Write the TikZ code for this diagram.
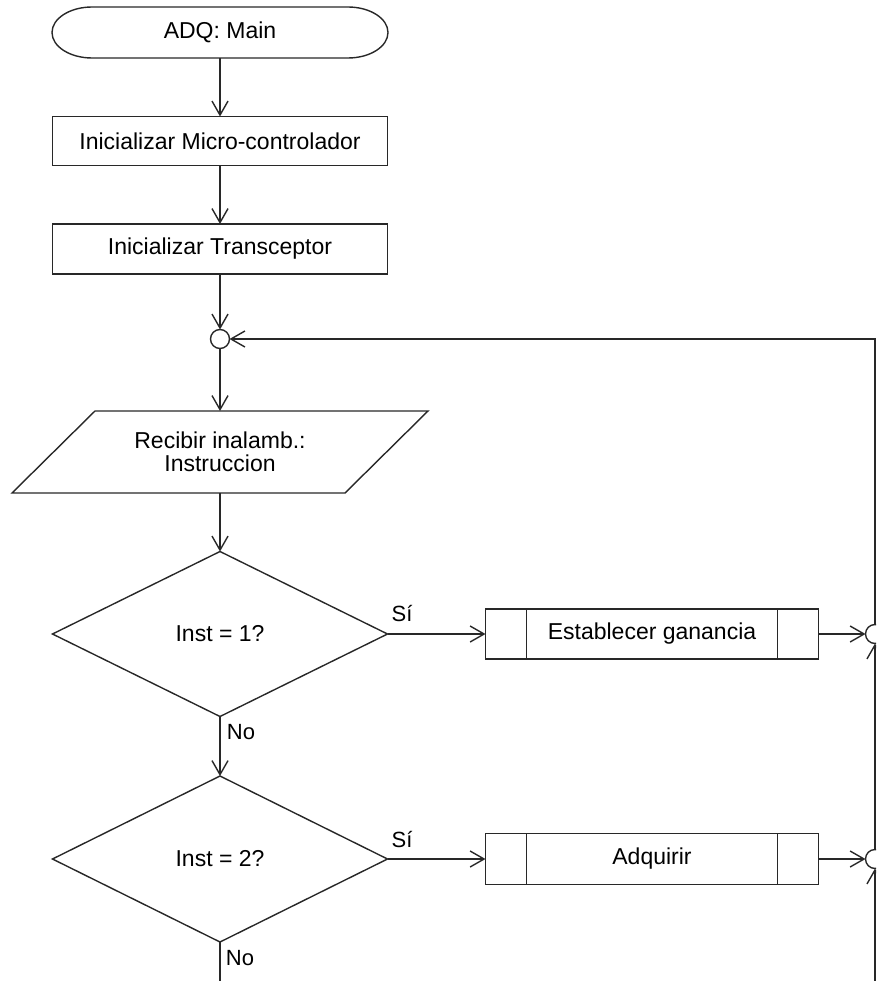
\documentclass[tikz,border=0pt]{standalone}
\usepackage{fontspec}
\setmainfont{Liberation Sans}
\usetikzlibrary{arrows.meta,shapes.geometric}
\definecolor{ln}{HTML}{282828}
\begin{document}
\begin{tikzpicture}[x=1pt,y=-1pt,line width=1.4pt,color=ln,
  every node/.style={font=\fontsize{23}{23}\selectfont,text=black,inner sep=0pt,outer sep=0pt},
  arr/.style={-{Straight Barb[length=14pt,width=16pt]}},
  procbox/.style={draw,rectangle,minimum width=335pt,minimum height=49pt},
  subbox/.style={draw,rectangle,minimum width=333pt,minimum height=50pt},
  decbox/.style={draw,diamond,minimum width=335pt,minimum height=165pt},
  junc/.style={draw,circle,minimum size=19pt},
  lbl/.style={font=\fontsize{22}{24}\selectfont}]
\useasboundingbox (0,0) rectangle (876,981);
\clip (0,0) rectangle (876,981);
% terminal
\draw (92,7) -- (348,7) .. controls (370,7) and (388,18.4) .. (388,32.5)
  .. controls (388,46.6) and (370,58) .. (348,58) -- (92,58)
  .. controls (70,58) and (52,46.6) .. (52,32.5)
  .. controls (52,18.4) and (70,7) .. (92,7) -- cycle;
\node (start) at (220,32.5) [minimum width=336pt,minimum height=51pt] {ADQ: Main};
\node[procbox] (b1) at (220,141) {Inicializar Micro-controlador};
\node[procbox,minimum height=50pt] (b2) at (220,249) {Inicializar Transceptor};
\node[junc] (j0) at (220,339) {};
% parallelogram
\draw (95,411) -- (428,411) -- (345,493) -- (12,493) -- cycle;
\node[align=center,minimum width=250pt,minimum height=82pt] (para) at (220,452) {Recibir inalamb.:\\Instruccion};
\node[decbox] (d1) at (220,634) {Inst = 1?};
\node[decbox,minimum height=166pt] (d2) at (220,859) {Inst = 2?};
\node[subbox] (p1) at (652,634) {Establecer ganancia};
\draw ([xshift=41pt]p1.north west) -- ([xshift=41pt]p1.south west);
\draw ([xshift=-41pt]p1.north east) -- ([xshift=-41pt]p1.south east);
\node[subbox,minimum height=51pt] (p2) at (652,859) {Adquirir};
\draw ([xshift=41pt]p2.north west) -- ([xshift=41pt]p2.south west);
\draw ([xshift=-41pt]p2.north east) -- ([xshift=-41pt]p2.south east);
\node[junc] (j1) at (875,634) {};
\node[junc] (j2) at (875,859) {};
\coordinate (mbot) at (220,990);
\coordinate (rbot) at (875,990);
% labels
\node[lbl] (si1) at (402,614) {Sí};
\node[lbl] (si2) at (402,839) {Sí};
\node[lbl] (no1) at (241,732) {No};
\node[lbl] (no2) at (240,958) {No};
% connectors
\draw[arr] (start) -- (b1);
\draw[arr] (b1) -- (b2);
\draw[arr] (b2) -- (j0);
\draw[arr] (j0) -- (para);
\draw[arr] (para) -- (d1);
\draw[arr] (d1.east) -- (p1.west);
\draw[arr] (d1.south) -- (d2.north);
\draw[arr] (d2.east) -- (p2.west);
\draw (d2.south) -- (mbot);
\draw[arr] (p1.east) -- (j1.west);
\draw[arr] (p2.east) -- (j2.west);
\draw[arr] (j1.north) |- (j0.east);
\draw[arr] (j2.north) -- (j1.south);
\draw[arr] (rbot) -- (j2.south);
\end{tikzpicture}
\end{document}
